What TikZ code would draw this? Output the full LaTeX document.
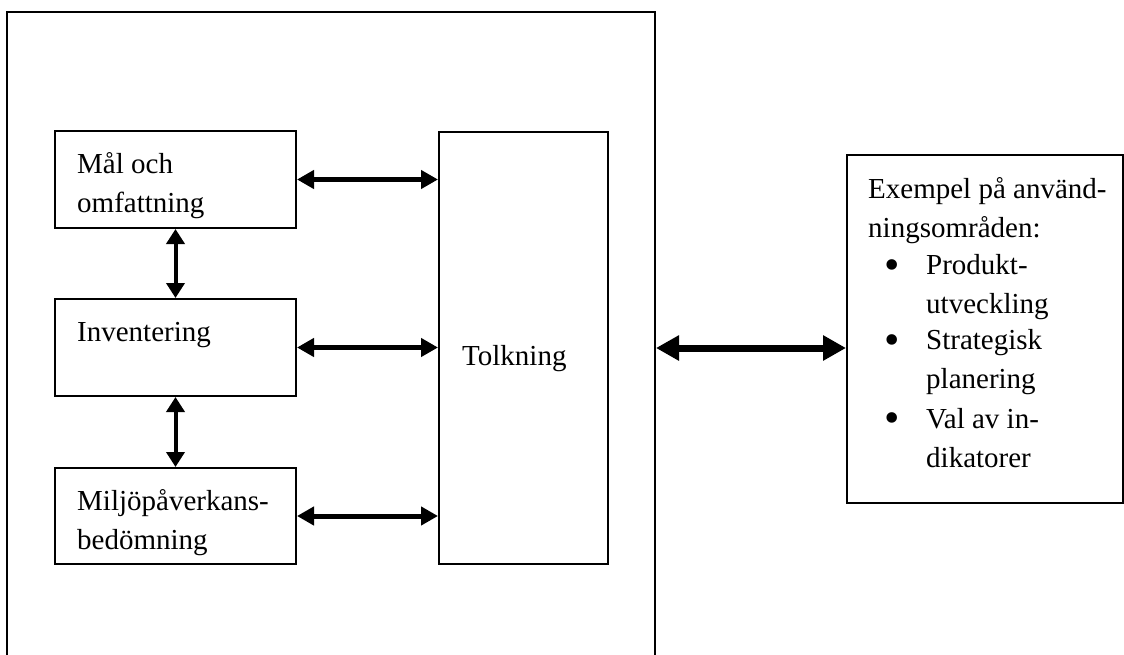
\documentclass[tikz,border=0pt]{standalone}
\usepackage{fontspec}
\setmainfont{Liberation Serif}
\usetikzlibrary{arrows.meta}
\begin{document}
\begin{tikzpicture}[x=1pt, y=-1pt,
  box/.style={draw, line width=2pt, inner sep=0pt},
  txt/.style={anchor=base west, inner sep=0pt, align=left,
    font=\fontsize{29}{38.5}\selectfont},
  dot/.style={anchor=base, inner sep=0pt, font=\fontsize{44}{44}\selectfont},
  hlink/.style={line width=5pt,
    {Triangle[length=17pt,width=18pt]}-{Triangle[length=17pt,width=18pt]}},
  vlink/.style={line width=4pt,
    {Triangle[length=15pt,width=18pt]}-{Triangle[length=15pt,width=18pt]}},
  biglink/.style={line width=7pt,
    {Triangle[length=23pt,width=24pt]}-{Triangle[length=23pt,width=24pt]}}]

\path[use as bounding box, clip] (0,0) rectangle (1124,655);

% outer frame (open at the bottom edge of the page)
\node[box, minimum width=648pt, minimum height=658pt] (outer) at (331,341) {};

% process boxes
\node[box, minimum width=241pt, minimum height=97pt] (mal) at (175.5,179.5) {};
\node[box, minimum width=241pt, minimum height=97pt] (inv) at (175.5,347.5) {};
\node[box, minimum width=241pt, minimum height=96pt] (bed) at (175.5,516) {};
\node[box, minimum width=169pt, minimum height=432pt] (tolk) at (523.5,348) {};

% application box
\node[box, minimum width=276pt, minimum height=348pt] (app) at (985,329) {};

% texts (multi-line nodes are anchored on their last baseline)
\node[txt] (malT) at (77,212) {Mål och\\omfattning};
\node[txt] (invT) at (77,341) {Inventering};
\node[txt] (bedT) at (77,549) {Miljöpåverkans-\\bedömning};
\node[txt] (tolkT) at (462,365) {Tolkning};

\node[txt] (appT) at (868,237) {Exempel på använd-\\ningsområden:};
\node[dot] (b1) at (892,279) {•};
\node[dot] (b2) at (892,354) {•};
\node[dot] (b3) at (892,432) {•};
\node[txt] (i1) at (926,313) {Produkt-\\utveckling};
\node[txt] (i2) at (926,388) {Strategisk\\planering};
\node[txt] (i3) at (926,467) {Val av in-\\dikatorer};

% connectors
\draw[hlink] (mal.east) -- (mal.east -| tolk.west);
\draw[hlink] (inv.east) -- (inv.east -| tolk.west);
\draw[hlink] (bed.east) -- (bed.east -| tolk.west);
\draw[vlink] (mal.south) -- (inv.north);
\draw[vlink] (inv.south) -- (bed.north);
\draw[biglink] (tolk.center -| outer.east) -- (tolk.center -| app.west);
\end{tikzpicture}
\end{document}
